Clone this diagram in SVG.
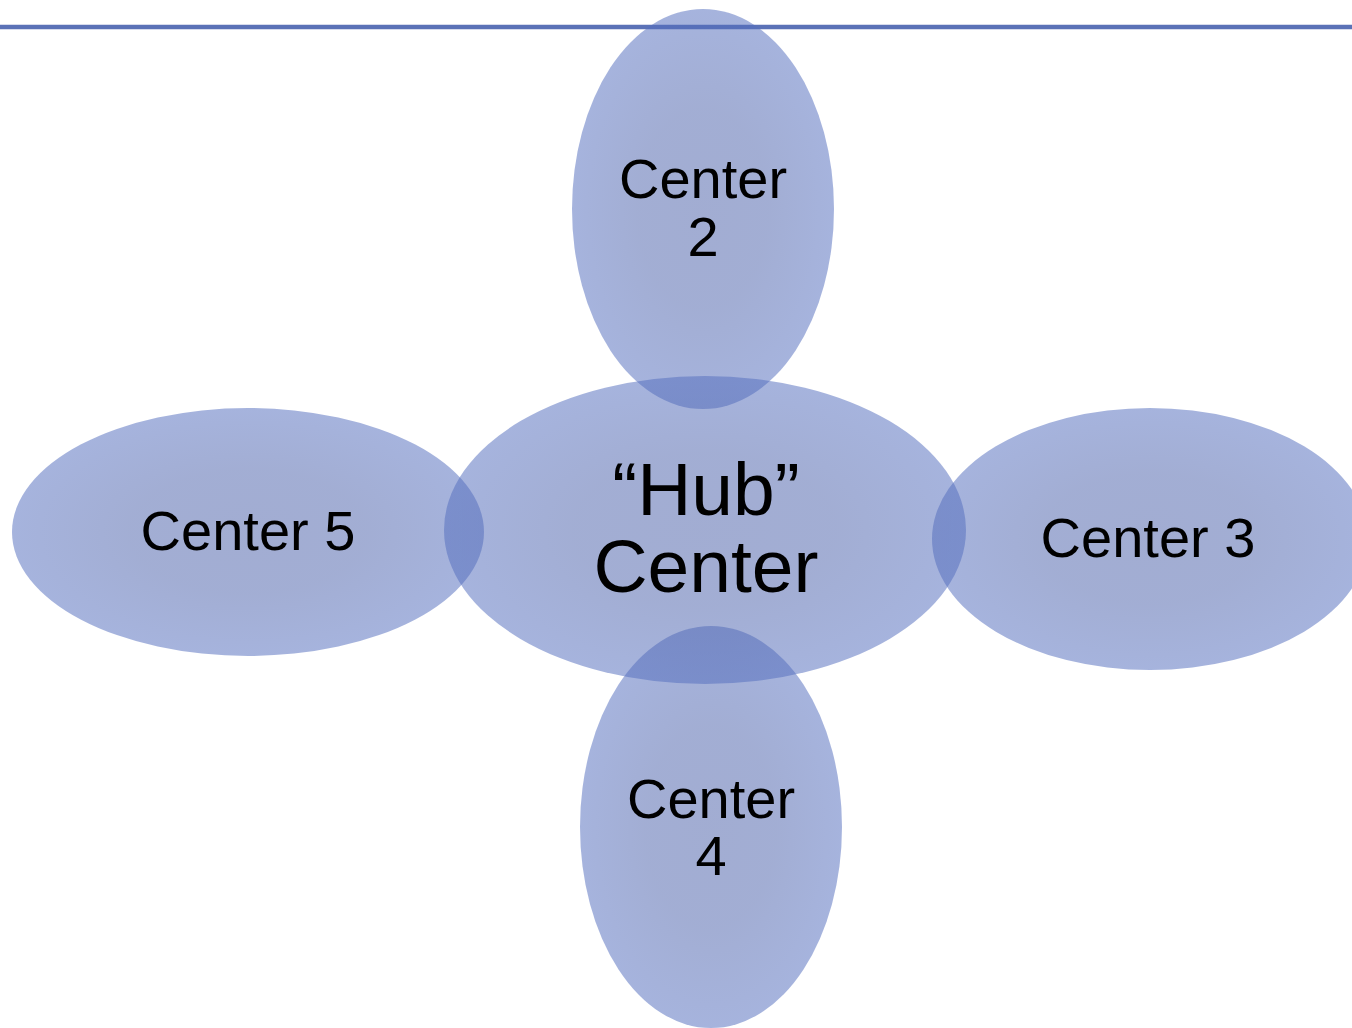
<svg xmlns="http://www.w3.org/2000/svg" width="1352" height="1028" viewBox="0 0 1352 1028">
<defs>
<radialGradient id="g" cx="0.5" cy="0.5" r="0.5">
<stop offset="0" stop-color="#4c61a9"/>
<stop offset="0.5" stop-color="#4d63ac"/>
<stop offset="1" stop-color="#546ebe"/>
</radialGradient>
</defs>
<style>
.e{fill:url(#g);fill-opacity:0.52}
.t{font-family:"Liberation Sans",Arial,sans-serif;fill:#000;text-anchor:middle;font-size:56px}
.h{font-size:75px}
</style>
<rect width="1352" height="1028" fill="#fff"/>
<line x1="0" y1="27" x2="1352" y2="27" stroke="#5b72b7" stroke-width="4.5"/>
<g id="center2"><ellipse class="e" cx="703" cy="209" rx="131" ry="200"/></g>
<g id="center5"><ellipse class="e" cx="248" cy="532" rx="236" ry="124"/></g>
<g id="center3"><ellipse class="e" cx="1150" cy="539" rx="218" ry="131"/></g>
<g id="center4"><ellipse class="e" cx="711" cy="827" rx="131" ry="201"/></g>
<g id="hub"><ellipse class="e" cx="705" cy="530" rx="261" ry="154"/></g>
<g id="labels">
<text class="t" x="703" y="198">Center</text>
<text class="t" x="703" y="256">2</text>
<text class="t" x="248" y="550">Center 5</text>
<text class="t" x="1148" y="557">Center 3</text>
<text class="t" x="711" y="818">Center</text>
<text class="t" x="711" y="875">4</text>
<text class="t h" x="706" y="515">“Hub”</text>
<text class="t h" x="706" y="592">Center</text>
</g>
</svg>
